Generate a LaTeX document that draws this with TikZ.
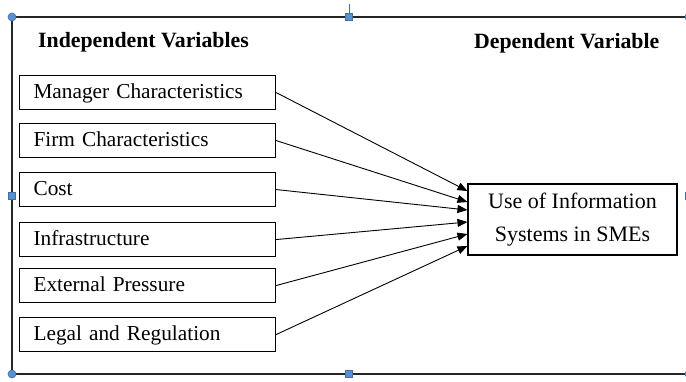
\documentclass[tikz,border=0pt]{standalone}
\usepackage{fontspec}
\setmainfont{Liberation Serif}
\usetikzlibrary{arrows.meta}
\definecolor{handleblue}{HTML}{5B8FD6}
\definecolor{handleedge}{HTML}{41719C}
\begin{document}
\begin{tikzpicture}[x=1pt,y=-1pt,
    varbox/.style={draw, line width=1.1pt, anchor=north west, minimum height=34pt,
        text width=228pt, inner xsep=14pt, inner ysep=0pt, align=left,
        text height=16pt, text depth=4pt,
        font=\fontsize{21.3}{25}\selectfont},
    depbox/.style={draw, line width=1.1pt, minimum width=209pt, minimum height=71pt,
        align=center, font=\fontsize{22}{33}\selectfont},
    heading/.style={anchor=west, inner sep=0pt, font=\fontsize{21.8}{25}\selectfont\bfseries},
    link/.style={line width=0.9pt, -{Triangle[length=10pt,width=8pt]}},
    sqhandle/.style={draw=handleedge, fill=handleblue, line width=0.6pt, minimum size=7pt, inner sep=0pt},
    rdhandle/.style={draw=handleedge, fill=handleblue, line width=0.6pt, circle, minimum size=8pt, inner sep=0pt}]
    \clip (0,0) rectangle (686,381);
    % outer frame with its selection handles
    \draw[line width=1.2pt, black!85] (12,17) rectangle (689,374);
    \draw[handleedge, line width=1pt] (349,4) -- (349,17);
    \node[rdhandle] (htl) at (12,17) {};
    \node[rdhandle] (hbl) at (12,374) {};
    \node[rdhandle] (htr) at (689,17) {};
    \node[rdhandle] (hbr) at (689,374) {};
    \node[sqhandle] (ht) at (349,17) {};
    \node[sqhandle] (hb) at (349,374) {};
    \node[sqhandle] (hl) at (12,196) {};
    \node[sqhandle] (hr) at (689,196) {};
    % headings
    \node[heading] (indep) at (38,42) {Independent Variables};
    \node[heading] (dep) at (474,43) {Dependent Variable};
    % independent variables
    \node[varbox] (manager) at (19,75) {Manager Characteristics};
    \node[varbox] (firm) at (19,123) {Firm Characteristics};
    \node[varbox] (cost) at (19,172) {Cost};
    \node[varbox] (infra) at (19,222) {Infrastructure};
    \node[varbox] (pressure) at (19,268) {External Pressure};
    \node[varbox] (legal) at (19,317) {Legal and Regulation};
    % dependent variable
    \node[depbox] (use) at (572.5,219.5) {Use of Information\\Systems in SMEs};
    % links
    \draw[link] (manager.east) -- ([yshift=28.5pt]use.west);
    \draw[link] (firm.east) -- ([yshift=17.5pt]use.west);
    \draw[link] (cost.east) -- ([yshift=9.5pt]use.west);
    \draw[link] (infra.east) -- ([yshift=-2.5pt]use.west);
    \draw[link] (pressure.east) -- ([yshift=-14.5pt]use.west);
    \draw[link] (legal.east) -- ([yshift=-26.5pt]use.west);
\end{tikzpicture}
\end{document}
